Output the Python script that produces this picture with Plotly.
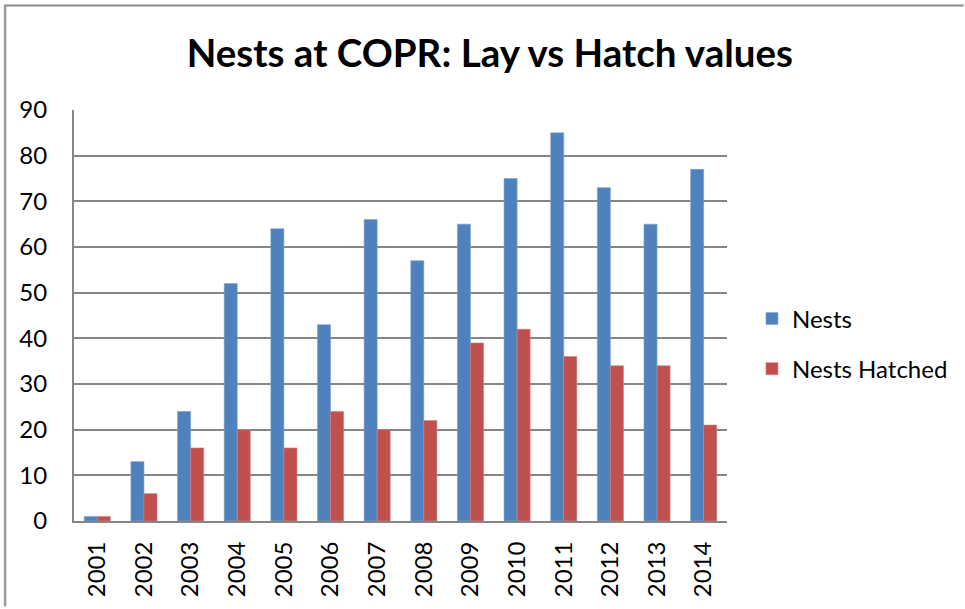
import plotly.graph_objects as go

years = ["2001", "2002", "2003", "2004", "2005", "2006", "2007",
         "2008", "2009", "2010", "2011", "2012", "2013", "2014"]
nests = [1, 13, 24, 52, 64, 43, 66, 57, 65, 75, 85, 73, 65, 77]
nests_hatched = [1, 6, 16, 20, 16, 24, 20, 22, 39, 42, 36, 34, 34, 21]

FONT = "Lato, 'Liberation Sans', sans-serif"
L, R, T, B = 74, 237, 110, 86
W, H = 965, 609
pw, ph = W - L - R, H - T - B

def px_x(x):
    return (x - L) / pw

def px_y(y):
    return (H - B - y) / ph

fig = go.Figure()
fig.add_trace(go.Bar(x=years, y=nests, name="Nests", marker_color="#4F81BD",
                     marker_line=dict(color="#7EA3D0", width=0.6), legendgroup="a"))
fig.add_trace(go.Bar(x=years, y=nests_hatched, name="Nests Hatched", marker_color="#C0504D",
                     marker_line=dict(color="#D27F7D", width=0.6), legendgroup="b"))

fig.update_layout(
    width=W, height=H,
    margin=dict(l=L, r=R, t=T, b=B, pad=0),
    paper_bgcolor="white", plot_bgcolor="white",
    barmode="group", bargap=0.44, bargroupgap=0,
    font=dict(family=FONT, size=24, color="black"),
    title=dict(text="<b>Nests at COPR: Lay vs Hatch values</b>",
               font=dict(family=FONT, size=38.5, color="black"),
               x=px_x(490.5), xanchor="center", xref="paper", y=1 - 54 / H, yanchor="middle"),
    legend=dict(x=px_x(753), y=px_y(345), xanchor="left", yanchor="middle",
                traceorder="grouped", tracegroupgap=16,
                font=dict(family=FONT, size=24, color="black"),
                bgcolor="rgba(0,0,0,0)"),
    xaxis=dict(type="category", tickangle=-90, showline=True, linecolor="#868686",
               linewidth=2, ticks="", showgrid=False, tickfont=dict(size=24),
               ticklabelstandoff=9),
    yaxis=dict(range=[0, 90], dtick=10, showline=True, linecolor="#868686",
               linewidth=2, gridcolor="#868686", gridwidth=1.5, ticks="",
               tickfont=dict(size=24), zeroline=False, ticklabelstandoff=20),
    shapes=[
        dict(type="line", xref="paper", yref="paper",
             x0=px_x(4), x1=px_x(965), y0=px_y(5), y1=px_y(5),
             line=dict(color="#888888", width=2)),
        dict(type="line", xref="paper", yref="paper",
             x0=px_x(5), x1=px_x(5), y0=px_y(5), y1=px_y(609),
             line=dict(color="#999999", width=2.5)),
    ],
)

fig.write_html("out.html", config={"displayModeBar": False},
               post_script="document.body.style.margin='0';")
